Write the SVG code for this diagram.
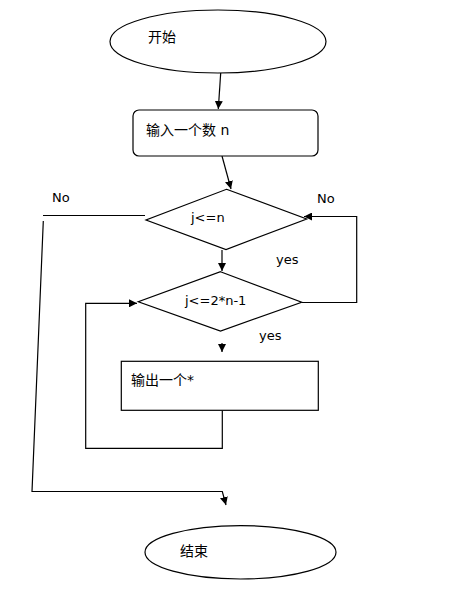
<svg xmlns="http://www.w3.org/2000/svg" width="457" height="601" viewBox="0 0 457 601">
<defs>
<marker id="arr" viewBox="0 0 10 10" refX="10" refY="5" markerWidth="8" markerHeight="8" markerUnits="userSpaceOnUse" orient="auto">
<path d="M0,0 L10,5 L0,10 Z" fill="#000"/>
</marker>
</defs>
<style>
.shape{fill:#fff;stroke:#000;stroke-width:1.2}
.line{fill:none;stroke:#000;stroke-width:1.2}
.t{font-family:"DejaVu Sans","Noto Sans CJK SC",sans-serif;font-size:13px;fill:#000}
.c{font-family:"DejaVu Sans","Noto Sans CJK SC",sans-serif;font-size:14px;fill:#000}
</style>
<rect width="457" height="601" fill="#fff"/>
<g id="connectors">
<line class="line" x1="220.7" y1="73" x2="218.3" y2="109" marker-end="url(#arr)"/>
<line class="line" x1="222" y1="156" x2="231" y2="189" marker-end="url(#arr)"/>
<line class="line" x1="222" y1="250" x2="222" y2="271" marker-end="url(#arr)"/>
<line class="line" x1="222" y1="343" x2="222" y2="352" marker-end="url(#arr)"/>
<polyline class="line" points="301.7,302.5 356.7,302.5 356.7,216.5 304,216.5" marker-end="url(#arr)"/>
<polyline class="line" points="222.3,410.5 222.3,448.3 85.7,448.3 85.7,303.3 137,303.3" marker-end="url(#arr)"/>
<line class="line" x1="145" y1="215.5" x2="43" y2="215.5"/>
<polyline class="line" points="43.3,221 32,491.5 222.3,491.5 226,505" marker-end="url(#arr)"/>
<text class="t" x="52" y="202">No</text>
<text class="t" x="317" y="203">No</text>
<text class="t" x="276" y="264">yes</text>
<text class="t" x="259" y="340">yes</text>
</g>
<g id="start">
<ellipse class="shape" cx="218" cy="41.5" rx="108" ry="31.5"/>
<text class="c" x="148" y="42">开始</text>
</g>
<g id="input">
<rect class="shape" x="133" y="110" width="185" height="46" rx="6"/>
<text class="c" x="146" y="135">输入一个数 n</text>
</g>
<g id="cond1">
<polygon class="shape" points="226.5,189.3 306.7,219 226,249.5 146,220"/>
<text class="t" x="191" y="222">j&lt;=n</text>
</g>
<g id="cond2">
<polygon class="shape" points="220.5,271.7 301.7,302.3 220.5,331 138.3,301.7"/>
<text class="t" x="185" y="305">j&lt;=2*n-1</text>
</g>
<g id="output">
<rect class="shape" x="121.3" y="361.3" width="197" height="49"/>
<text class="c" x="131" y="385">输出一个*</text>
</g>
<g id="end">
<ellipse class="shape" cx="240.5" cy="552.3" rx="95.5" ry="26.7"/>
<text class="c" x="180" y="556">结束</text>
</g>
</svg>
